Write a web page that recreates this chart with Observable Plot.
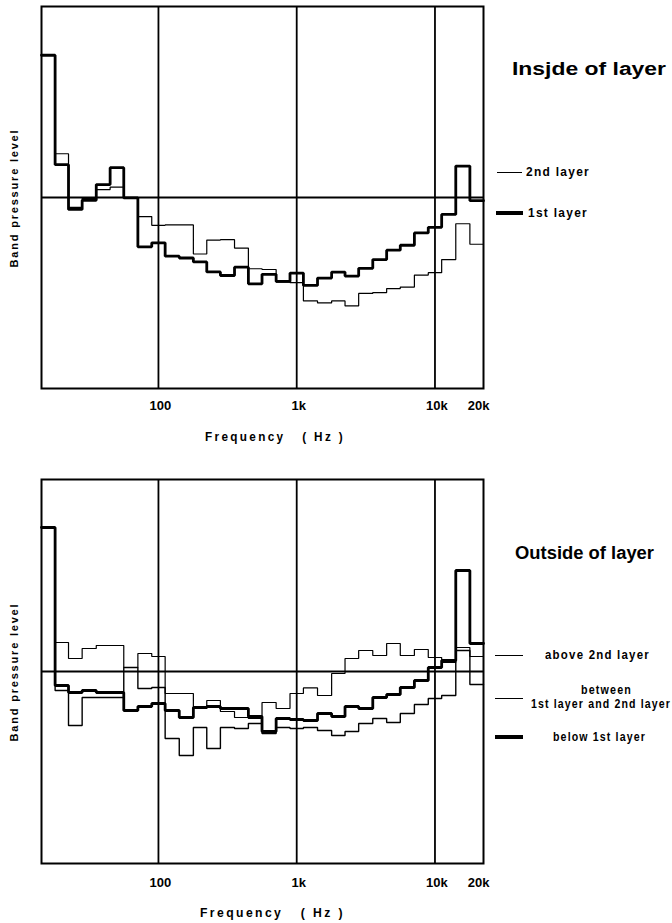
<!DOCTYPE html>
<html><head><meta charset="utf-8">
<script src="https://cdn.jsdelivr.net/npm/d3@7"></script>
<script src="https://cdn.jsdelivr.net/npm/@observablehq/plot@0.6"></script>
<style>
body{margin:0;background:#fff;}
#wrap{position:relative;width:672px;height:923px;overflow:hidden;font-family:"Liberation Sans","DejaVu Sans",sans-serif;font-weight:bold;color:#000;}
#wrap svg{display:block;}
.lbl{position:absolute;white-space:nowrap;font-family:"Liberation Sans","DejaVu Sans",sans-serif;font-weight:bold;font-size:12px;letter-spacing:1.3px;line-height:1;transform-origin:left center;}
.title{position:absolute;white-space:nowrap;font-family:"Liberation Sans","DejaVu Sans",sans-serif;font-weight:bold;font-size:18px;line-height:1;transform-origin:left center;}
.sw{position:absolute;background:#000;}
.ylab{position:absolute;white-space:nowrap;font-family:"Liberation Sans","DejaVu Sans",sans-serif;font-weight:bold;font-size:11px;letter-spacing:1.8px;line-height:1;transform:translate(-50%,-50%) rotate(-90deg);}
</style></head>
<body><div id="wrap"></div>
<script>
// 1/3-octave band centre frequencies (Hz)
const bandCenters = [16,20,25,31.5,40,50,63,80,100,125,160,200,250,315,400,500,630,800,1000,1250,1600,2000,2500,3150,4000,5000,6300,8000,10000,12500,16000,20000];
const tickValues = [100,1000,10000,20000];
const tickLabels = ["100","1k","10k","20k"];
const gridFreqs = [100,1000,10000];

// Inside of layer (relative band level, arbitrary dB; 0 = reference line)
const inside1st = [35.75,8.25,-3,-0.7,3.25,7.5,-0.1,-12.4,-11.4,-14.75,-15.2,-16.2,-18.7,-19.6,-17.5,-21.7,-19.3,-21.1,-19,-22.1,-20.25,-18.75,-19.75,-17.8,-15.6,-13.25,-12,-8.9,-7.5,-4.25,7.9,-0.8];
const inside2nd = [35.75,11,-2.5,-0.2,2,2.6,0,-4.8,-7,-6.9,-6.9,-14.2,-10.7,-10.6,-12.7,-17.9,-18.1,-21.25,-21.4,-26,-26.5,-26,-27.25,-24.1,-23.9,-22.9,-22.5,-19.5,-18.9,-15.6,-6.6,-11.75];

// Outside of layer
const outsideAbove2nd = [36,7.25,3.25,5.75,6.5,6.5,1,4.5,3.75,-5.5,-5.5,-9.25,-7.25,-10,-11.5,-11.75,-7.75,-9.25,-5.5,-4.1,-6,-0.5,3.25,5.25,4,7,4,5.5,3.5,2.25,6,3.75];
const outsideBetween = [36,-4.75,-13.5,-6.5,-6.5,-6.5,1,-4.25,-4,-16.75,-21,-14,-19.25,-14,-14.25,-13,-15.5,-14,-14.25,-14,-14.75,-16,-15,-13,-11.75,-12.75,-10.5,-8.25,-6.75,-6,5.25,-3.25];
const outsideBelow1st = [36,-3.5,-5.25,-4.75,-5.25,-5.25,-9.75,-8.75,-8,-9.75,-11.5,-9,-8.75,-9.25,-9.25,-11.25,-15,-11.75,-12,-12.25,-10.5,-11.25,-8.75,-9.25,-6.5,-5.75,-4,-2.25,1,2.75,25.25,7];

const half = Math.pow(10, 0.05);
const edges = bandCenters.map((c, i) => i === 0 ? c / half : Math.sqrt(bandCenters[i - 1] * c));
const xDomain = [bandCenters[0] / half, bandCenters[bandCenters.length - 1] * half];

function steps(vals) {
  const pts = vals.map((v, i) => ({x: edges[i], y: v}));
  pts.push({x: xDomain[1], y: vals[vals.length - 1]});
  return pts;
}

function panel(series, opts) {
  return Plot.plot({
    width: 672,
    height: opts.height,
    marginLeft: 41,
    marginRight: 189,
    marginTop: opts.top,
    marginBottom: opts.bottom,
    x: {type: "log", domain: xDomain, axis: null},
    y: {domain: [-48, 48], axis: null},
    style: {background: "#fff", overflow: "visible"},
    marks: [
      Plot.ruleX(gridFreqs, {stroke: "#000", strokeWidth: 1.8}),
      Plot.ruleY([0], {stroke: "#000", strokeWidth: 1.8}),
      ...series.map(s => Plot.line(steps(s.vals), {x: "x", y: "y", curve: "step-after", stroke: "#000", strokeWidth: s.w, strokeLinejoin: "miter"})),
      Plot.frame({stroke: "#000", strokeWidth: 2}),
      Plot.text(tickValues, {x: d => d, text: (d, i) => tickLabels[i], frameAnchor: "bottom", dy: opts.tickDy, dx: 2, fontSize: 13, fontWeight: "bold", fontFamily: "Liberation Sans, DejaVu Sans, sans-serif", letterSpacing: 2.2, fill: "#000"})
    ]
  });
}

const wrap = document.getElementById("wrap");
wrap.appendChild(panel([
  {vals: inside2nd, w: 1.2},
  {vals: inside1st, w: 2.8}
], {height: 470, top: 6, bottom: 82, tickDy: 21}));
wrap.appendChild(panel([
  {vals: outsideAbove2nd, w: 1.2},
  {vals: outsideBetween, w: 1.4},
  {vals: outsideBelow1st, w: 2.8}
], {height: 453, top: 9, bottom: 60, tickDy: 23}));

function add(html) { wrap.insertAdjacentHTML("beforeend", html); return wrap.lastElementChild; }
function fit(el, w) {
  const r = el.getBoundingClientRect().width;
  if (r > 0) el.style.transform = "scaleX(" + (w / r) + ")";
}
// Top panel annotations
fit(add('<div class="title" style="left:512px;top:60px;">Insjde of layer</div>'), 154);
add('<div class="sw" style="left:497px;top:172px;width:25px;height:1.2px;"></div>');
fit(add('<div class="lbl" style="left:526px;top:166px;">2nd layer</div>'), 64);
add('<div class="sw" style="left:496px;top:211px;width:27px;height:3.5px;"></div>');
fit(add('<div class="lbl" style="left:528px;top:207px;">1st layer</div>'), 60);
add('<div class="ylab" style="left:14px;top:198px;">Band pressure level</div>');
fit(add('<div class="lbl" style="left:205px;top:431px;letter-spacing:2.4px;">Frequency&nbsp;&nbsp;&nbsp;( Hz )</div>'), 140);
// Bottom panel annotations
fit(add('<div class="title" style="left:515px;top:544px;">Outside of layer</div>'), 139);
add('<div class="sw" style="left:495px;top:655px;width:28px;height:1.2px;"></div>');
fit(add('<div class="lbl" style="left:545px;top:649px;">above 2nd layer</div>'), 105);
fit(add('<div class="lbl" style="left:581px;top:684px;">between</div>'), 51);
add('<div class="sw" style="left:495px;top:698px;width:28px;height:1.4px;"></div>');
fit(add('<div class="lbl" style="left:531px;top:698px;">1st layer and 2nd layer</div>'), 140);
add('<div class="sw" style="left:495px;top:735px;width:28px;height:3.5px;"></div>');
fit(add('<div class="lbl" style="left:553px;top:731px;">below 1st layer</div>'), 93);
add('<div class="ylab" style="left:14px;top:672px;">Band pressure level</div>');
fit(add('<div class="lbl" style="left:200px;top:907px;letter-spacing:2.4px;">Frequency&nbsp;&nbsp;&nbsp;( Hz )</div>'), 145);
</script>
</body></html>
